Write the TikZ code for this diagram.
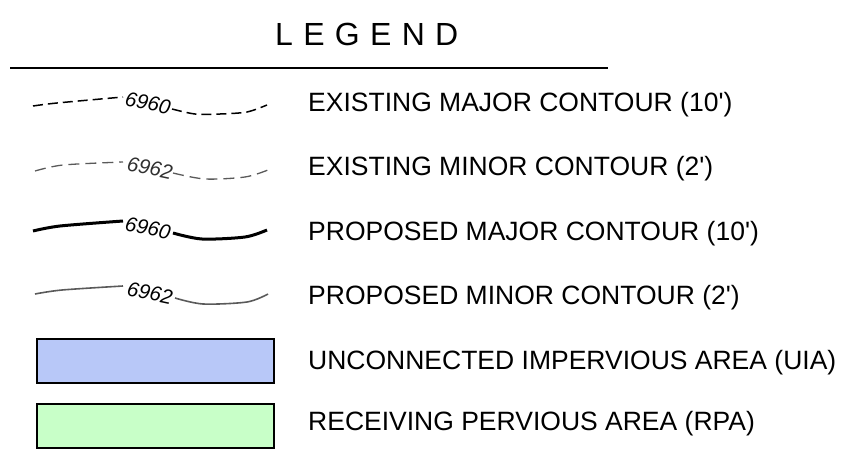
\documentclass[tikz,border=0pt]{standalone}
\usepackage{fontspec}
\setmainfont{Liberation Sans}
\definecolor{uiablue}{HTML}{B8C8F8}
\definecolor{rpagreen}{HTML}{C8FFC8}
\definecolor{minorgray}{HTML}{5A5A5A}
\definecolor{labelgray}{HTML}{303030}
\newcommand{\sq}{\textquotesingle}
\begin{document}
\begin{tikzpicture}[x=1pt,y=-1pt,
  legtext/.style={anchor=base west,inner sep=0pt,font=\fontsize{26.5}{30}\selectfont},
  clabel/.style={inner sep=0pt,rotate=-12,font=\fontsize{20.5}{22}\selectfont\itshape},
  exmajor/.style={black,line width=1.5pt,dash pattern=on 10pt off 5pt},
  exminor/.style={minorgray,line width=1.3pt,dash pattern=on 11pt off 6pt},
  prmajor/.style={black,line width=3pt},
  prminor/.style={minorgray,line width=1.6pt},
  areabox/.style={draw=black,line width=1.5pt}]
\useasboundingbox (0,0) rectangle (864,452);
% title
\node[anchor=base west,inner sep=0pt,font=\fontsize{32}{36}\selectfont] (title) at (275,46)
  {L\hspace{10.3pt}E\hspace{10.3pt}G\hspace{10.3pt}E\hspace{10.3pt}N\hspace{10.3pt}D};
\coordinate (ruleL) at (10,68);
\coordinate (ruleR) at (608,68);
\draw[line width=2pt] (ruleL) -- (ruleR);
% existing major
\draw[exmajor] plot[smooth,tension=0.5] coordinates {(33,106) (57,103) (123,97)};
\node[clabel,black] (l1) at (148,103) {6960};
\draw[exmajor] plot[smooth,tension=0.5] coordinates {(172,109) (195,114) (220,114) (247,112) (267,105)};
\node[legtext] (t1) at (308,111.5) {EXISTING MAJOR CONTOUR (10\sq)};
% existing minor
\draw[exminor] plot[smooth,tension=0.5] coordinates {(35,171) (63,165) (123,162)};
\node[clabel,labelgray] (l2) at (150,168) {6962};
\draw[exminor] plot[smooth,tension=0.5] coordinates {(173,173) (205,179) (245,177) (268,170)};
\node[legtext] (t2) at (308,175.5) {EXISTING MINOR CONTOUR (2\sq)};
% proposed major
\draw[prmajor] plot[smooth,tension=0.5] coordinates {(33,231) (60,226) (123,221)};
\node[clabel,black] (l3) at (148,228) {6960};
\draw[prmajor] plot[smooth,tension=0.5] coordinates {(173,233) (202,239) (245,237) (267,230)};
\node[legtext] (t3) at (308,240.5) {PROPOSED MAJOR CONTOUR (10\sq)};
% proposed minor
\draw[prminor] plot[smooth,tension=0.5] coordinates {(35,294) (62,290) (123,286)};
\node[clabel,black] (l4) at (150,293) {6962};
\draw[prminor] plot[smooth,tension=0.5] coordinates {(175,298) (203,304) (247,302) (268,294)};
\node[legtext] (t4) at (308,304.5) {PROPOSED MINOR CONTOUR (2\sq)};
% areas
\draw[areabox,fill=uiablue] (37,339) rectangle (274,383);
\node[legtext] (t5) at (308,369.5) {UNCONNECTED IMPERVIOUS AREA (UIA)};
\draw[areabox,fill=rpagreen] (37,404) rectangle (274,448);
\node[legtext] (t6) at (308,430) {RECEIVING PERVIOUS AREA (RPA)};
\end{tikzpicture}
\end{document}
